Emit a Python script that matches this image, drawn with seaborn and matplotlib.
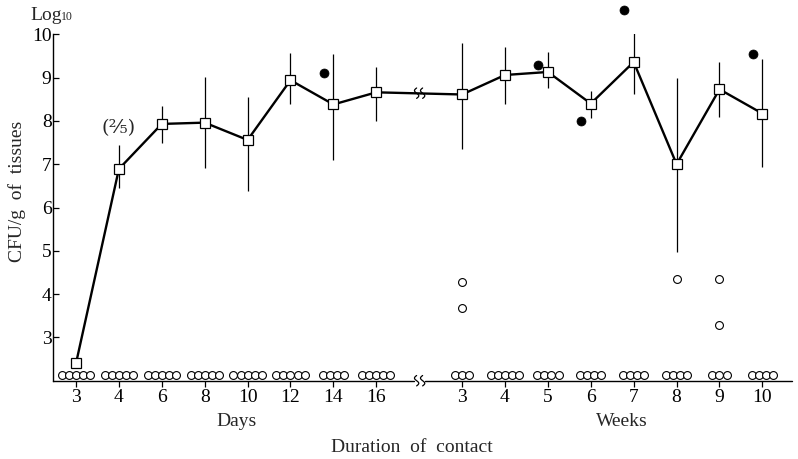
import numpy as np
import pandas as pd
import matplotlib
matplotlib.use("Agg")
import matplotlib.pyplot as plt
import seaborn as sns

# ---------------- data ----------------
day_labels = ["3", "4", "6", "8", "10", "12", "14", "16"]
week_labels = ["3", "4", "5", "6", "7", "8", "9", "10"]

mean_days = [2.40, 6.89, 7.93, 7.96, 7.56, 8.94, 8.38, 8.66]
hi_days = [np.nan, 7.44, 8.34, 9.02, 8.56, 9.56, 9.54, 9.24]
lo_days = [np.nan, 6.45, 7.49, 6.92, 6.39, 8.39, 7.09, 8.00]

mean_weeks = [8.61, 9.06, 9.13, 8.40, 9.36, 7.00, 8.73, 8.17]
hi_weeks = [9.79, 9.71, 9.60, 8.69, 10.07, 8.98, 9.36, 9.42]
lo_weeks = [7.36, 8.38, 8.75, 8.06, 8.61, 4.98, 8.09, 6.93]

# filled dots: (group label, value)
dot_groups = ["d14", "w5", "w6", "w7", "w10"]
dot_values = [9.10, 9.29, 8.00, 10.56, 9.55]

# isolated open circles above the baseline
open_groups = ["w3", "w3", "w8", "w9", "w9"]
open_values = [4.27, 3.68, 4.36, 4.36, 3.28]

# open circles at the baseline (count per group)
neg_days = [5, 5, 5, 5, 5, 5, 4, 5]
neg_weeks = [3, 5, 4, 4, 4, 4, 3, 4]
neg_value = 2.13

# ---------------- positions ----------------
pos_days = list(range(0, 8))
pos_weeks = list(range(9, 17))
group_pos = {f"d{l}": p for l, p in zip(day_labels, pos_days)}
group_pos.update({f"w{l}": p for l, p in zip(week_labels, pos_weeks)})

main = pd.DataFrame({
    "pos": pos_days + pos_weeks,
    "mean": mean_days + mean_weeks,
    "lo": lo_days + lo_weeks,
    "hi": hi_days + hi_weeks,
})

neg_rows = []
for p, n in zip(pos_days + pos_weeks, neg_days + neg_weeks):
    for i in range(n):
        neg_rows.append({"pos": p + (i - (n - 1) / 2) * 0.165, "val": neg_value})
neg = pd.DataFrame(neg_rows)

dots = pd.DataFrame({"pos": [group_pos[g] - 0.22 for g in dot_groups], "val": dot_values})
opens = pd.DataFrame({"pos": [group_pos[g] for g in open_groups], "val": open_values})

# ---------------- style ----------------
sns.set_theme(style="ticks")
plt.rcParams["font.family"] = ["Liberation Serif", "DejaVu Serif"]

W, H = 798, 459
fig = plt.figure(figsize=(W / 100, H / 100), dpi=100)
ax_left, ax_right, ax_top, ax_bot = 53, 792, 34.3, 380.7
ax = fig.add_axes([ax_left / W, 1 - ax_bot / H, (ax_right - ax_left) / W, (ax_bot - ax_top) / H])

x0 = -0.536
x1 = 16.69
ax.set_xlim(x0, x1)
ax.set_ylim(2, 10)

# error bars
eb = main.dropna()
ax.vlines(eb["pos"], eb["lo"], eb["hi"], color="black", lw=0.9, zorder=2)

# main line with squares
sns.lineplot(data=main, x="pos", y="mean", ax=ax, color="black", lw=1.7,
             marker="s", markersize=7.5, markerfacecolor="white",
             markeredgecolor="black", markeredgewidth=0.9, zorder=4,
             clip_on=False)

# baseline open circles
sns.scatterplot(data=neg, x="pos", y="val", ax=ax, s=32, facecolor="white",
                edgecolor="black", linewidth=0.8, zorder=3, clip_on=False)
# isolated open circles
sns.scatterplot(data=opens, x="pos", y="val", ax=ax, s=32, facecolor="white",
                edgecolor="black", linewidth=0.8, zorder=3)
# filled dots
sns.scatterplot(data=dots, x="pos", y="val", ax=ax, s=42, color="black",
                edgecolor="black", linewidth=0.5, zorder=5, clip_on=False)

# ---------------- axes ----------------
for s in ["top", "right", "bottom"]:
    ax.spines[s].set_visible(False)
ax.spines["left"].set_linewidth(1.0)
ax.spines["left"].set_color("black")

ax.set_yticks(range(3, 11))
ax.set_yticklabels([str(v) for v in range(3, 11)])
ax.set_xticks(pos_days + pos_weeks)
ax.set_xticklabels(day_labels + week_labels)
ax.tick_params(axis="y", direction="in", length=4, width=0.9, labelsize=14,
               pad=1, colors="black")
ax.tick_params(axis="x", direction="out", length=4, width=0.9, labelsize=14,
               pad=2, colors="black")
ax.set_xlabel("")
ax.set_ylabel("")

# broken x axis line
ax.plot([x0, 7.87], [2, 2], color="black", lw=1.0, clip_on=False, zorder=6)
ax.plot([8.13, x1], [2, 2], color="black", lw=1.0, clip_on=False, zorder=6)

t = np.linspace(-1, 1, 30)
def squiggle(xc, yc, h=0.12, w=0.05):
    ax.plot(xc - w * np.sin(np.pi * t), yc + h * t, color="black", lw=0.9,
            clip_on=False, zorder=7)

for xc in (7.94, 8.08):
    squiggle(xc, 2.0)
    squiggle(xc, 8.64)

# ---------------- texts ----------------
ax.text(1, 7.83, "(²⁄₅)", ha="center", va="center", fontsize=14,
        family=["DejaVu Serif"])

fig.text(30 / W, 1 - 16 / H, "Log", ha="left", va="center", fontsize=14)
fig.text(61 / W, 1 - 17 / H, "10", ha="left", va="center", fontsize=8.5)
fig.text(17 / W, 1 - 191 / H, "CFU/g  of  tissues", rotation=90,
         ha="center", va="center", fontsize=14)
fig.text(237 / W, 1 - 422 / H, "Days", ha="center", va="center", fontsize=14)
fig.text(622 / W, 1 - 421 / H, "Weeks", ha="center", va="center", fontsize=14)
fig.text(412 / W, 1 - 447 / H, "Duration  of  contact", ha="center",
         va="center", fontsize=14)

fig.savefig("out.png", dpi=100, facecolor="white")
